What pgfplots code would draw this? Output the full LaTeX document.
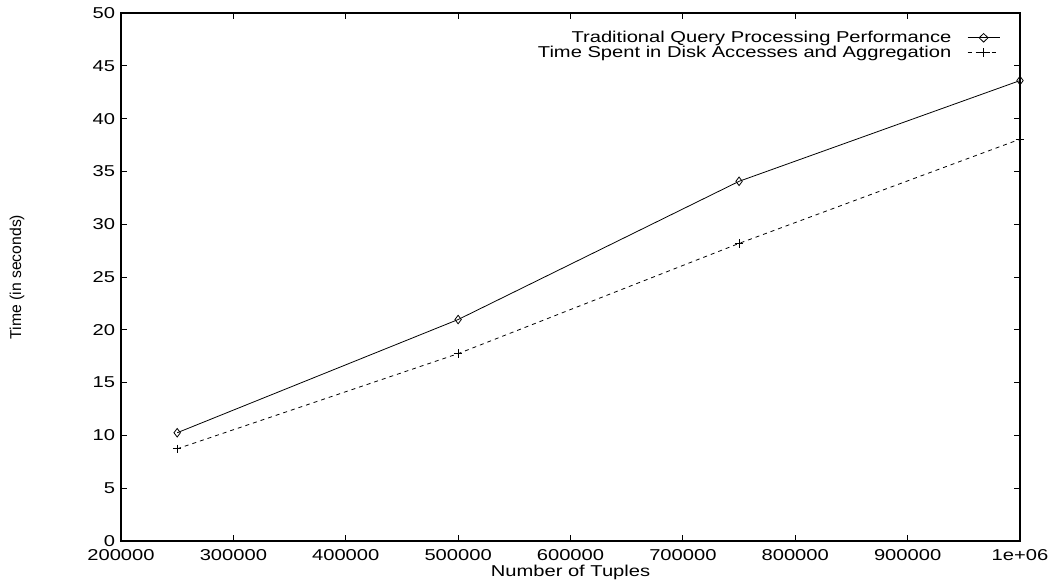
\documentclass[border=0pt]{standalone}
\usepackage{fontspec}
\setmainfont{Liberation Sans}
\usepackage{pgfplots}
\pgfplotsset{compat=1.18}
\usetikzlibrary{calc}
\begin{document}
\begin{tikzpicture}
\begin{axis}[
  name=ax,
  scale only axis,
  width=674.25pt, height=396pt,
  xmin=200000, xmax=1000000, ymin=0, ymax=50,
  xtick={200000,300000,400000,500000,600000,700000,800000,900000,1000000},
  xticklabels={200000,300000,400000,500000,600000,700000,800000,900000,1e+06},
  ytick={0,5,...,50},
  scaled ticks=false,
  /pgf/number format/assume math mode=true,
  tick align=inside,
  major tick length=4.5pt,
  axis line style={line width=0.8pt},
  tick style={line width=0.6pt, black},
  tick label style={font=\fontsize{11.8}{13}\selectfont, xscale=1.28},
  xticklabel style={yshift=-2.5pt},
  xlabel={Number of Tuples},
  ylabel={Time (in seconds)},
  xlabel style={font=\fontsize{11.8}{13}\selectfont, xscale=1.28, at={(axis description cs:0.5,-0.0587)}, anchor=center},
  ylabel style={font=\fontsize{11.8}{13}\selectfont, at={(axis description cs:-0.1157,0.5)}, anchor=center},
  legend plot pos=right,
  legend cell align=right,
  legend style={draw=none, fill=none,
    at={(rel axis cs:0.978,0.97)}, anchor=north east, row sep=-2pt, column sep=10pt, inner sep=0pt,
    nodes={inner sep=1.5pt, font=\fontsize{11.8}{13}\selectfont, xscale=1.28}},
  legend image post style={xscale=1.4},
]
\addplot[black, line width=0.6pt, mark=diamond, mark size=3.2pt, mark options={solid, line width=0.6pt}]
  coordinates {(250000,10.25) (500000,20.97) (750000,34.06) (1000000,43.6)};
\addlegendentry{Traditional Query Processing Performance}
\addplot[black, line width=0.6pt, dash pattern=on 3pt off 3pt, mark=+, mark size=3.2pt, mark options={solid, line width=0.6pt}]
  coordinates {(250000,8.73) (500000,17.74) (750000,28.18) (1000000,38.05)};
\addlegendentry{Time Spent in Disk Accesses and Aggregation}
\end{axis}
\pgfresetboundingbox
\path ($(ax.south west)+(-90.75pt,-33.75pt)$) rectangle ($(ax.north east)+(26.25pt,9.75pt)$);
\end{tikzpicture}
\end{document}
